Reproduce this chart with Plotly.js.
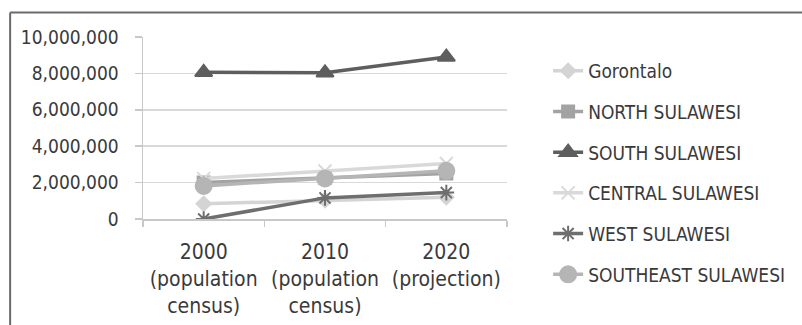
<!DOCTYPE html>
<html>
<head>
<meta charset="utf-8">
<script src="https://cdn.plot.ly/plotly-3.0.1.min.js"></script>
<style>
html,body{margin:0;padding:0;background:#fff;}
#chart{width:802px;height:325px;}
</style>
</head>
<body>
<div id="chart"></div>
<script>
var categories = ["2000<br>(population<br>census)", "2010<br>(population<br>census)", "2020<br>(projection)"];
var gorontalo = [835000, 1040000, 1200000];
var northSulawesi = [2010000, 2270000, 2500000];
var southSulawesi = [8060000, 8030000, 8900000];
var centralSulawesi = [2220000, 2640000, 3050000];
var westSulawesi = [0, 1160000, 1450000];
var southeastSulawesi = [1820000, 2230000, 2650000];
var yTicks = [0, 2000000, 4000000, 6000000, 8000000, 10000000];
var yTickText = ["0", "2,000,000", "4,000,000", "6,000,000", "8,000,000", "10,000,000"];

var FONT = "DejaVu Sans Condensed, Liberation Sans Narrow, sans-serif";

function tr(name, y, color, symbol, size, lw, group) {
  return {
    type: "scatter", mode: "lines+markers", name: name,
    x: categories, y: y, legendgroup: group,
    line: {color: color, width: lw},
    marker: {symbol: symbol, size: size, color: color, line: {color: color, width: 2}}
  };
}

var data = [
  tr("Gorontalo", gorontalo, "#d4d4d4", "diamond", 11, 3.5, "g1"),
  tr("NORTH SULAWESI", northSulawesi, "#a3a3a3", "square", 12, 3.5, "g2"),
  tr("SOUTH SULAWESI", southSulawesi, "#5e5e5e", "triangle-up", 15, 3.5, "g3"),
  tr("CENTRAL SULAWESI", centralSulawesi, "#d9d9d9", "x-thin-open", 13, 3.5, "g4"),
  tr("WEST SULAWESI", westSulawesi, "#6e6e6e", "asterisk-open", 13, 3.5, "g5"),
  tr("SOUTHEAST SULAWESI", southeastSulawesi, "#b5b5b5", "circle", 16, 3.5, "g6")
];

var layout = {
  width: 802, height: 325,
  margin: {l: 143, r: 295, t: 37, b: 106},
  paper_bgcolor: "#ffffff", plot_bgcolor: "#ffffff",
  font: {family: FONT, size: 19, color: "#3a3a3a"},
  showlegend: true,
  legend: {
    x: 1.113, xanchor: "left", y: 0.918, yanchor: "top",
    font: {family: FONT, size: 19, color: "#3a3a3a"},
    tracegroupgap: 13, bgcolor: "rgba(0,0,0,0)", maxheight: 320
  },
  xaxis: {
    type: "category", range: [-0.5, 2.5], autorange: false,
    showgrid: false, zeroline: false,
    showline: true, linecolor: "#c8c8c8", linewidth: 1.5,
    ticks: "outside", ticklen: 6, tickcolor: "#c8c8c8", tickwidth: 1.5,
    tickson: "boundaries", ticklabelstandoff: 13,
    tickfont: {family: FONT, size: 21, color: "#3a3a3a"},
    fixedrange: true
  },
  yaxis: {
    range: [0, 10000000], tickvals: yTicks, ticktext: yTickText,
    showgrid: true, gridcolor: "#d9d9d9", gridwidth: 1.5,
    zeroline: false, showline: true, linecolor: "#c8c8c8", linewidth: 1.5,
    ticks: "outside", ticklen: 7, tickcolor: "#c8c8c8", tickwidth: 1.5,
    ticklabelstandoff: 12,
    tickfont: {family: FONT, size: 19, color: "#3a3a3a"},
    fixedrange: true
  },
  shapes: [
    {type: "line", xref: "paper", yref: "paper", x0: -0.365, x1: 1.9, y0: 1.135, y1: 1.135,
     line: {color: "#6a6a6a", width: 2}},
    {type: "line", xref: "paper", yref: "paper", x0: -0.365, x1: -0.365, y0: 1.135, y1: -1,
     line: {color: "#6a6a6a", width: 2}}
  ]
};

Plotly.newPlot("chart", data, layout, {displayModeBar: false, staticPlot: true});
</script>
</body>
</html>
